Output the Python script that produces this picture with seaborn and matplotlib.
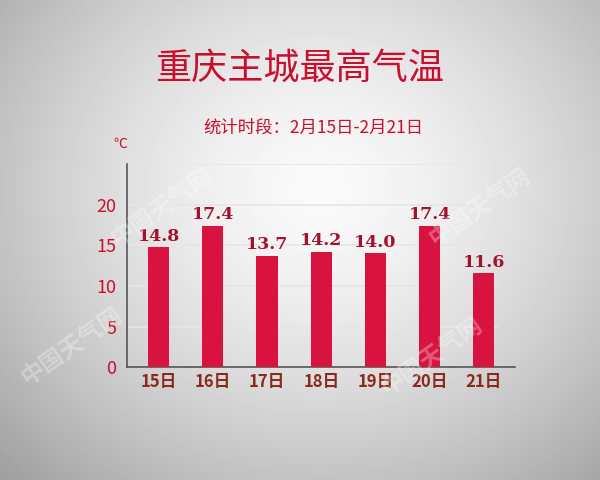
import numpy as np
import pandas as pd
import matplotlib
matplotlib.use("Agg")
import matplotlib.pyplot as plt
import seaborn as sns

# 数据
days = ["15日", "16日", "17日", "18日", "19日", "20日", "21日"]
temps = [14.8, 17.4, 13.7, 14.2, 14.0, 17.4, 11.6]
y_ticks = [0, 5, 10, 15, 20]

sns.set_theme(style="white")
plt.rcParams['font.family'] = ['Noto Sans CJK SC', 'DejaVu Sans']
plt.rcParams['axes.unicode_minus'] = False

fig = plt.figure(figsize=(6, 4.8), dpi=100)

# 背景渐变
bg = fig.add_axes([0, 0, 1, 1], zorder=-10)
yy, xx = np.mgrid[0:480, 0:600]
r = np.sqrt(((xx - 320) / 400.0) ** 2 + ((yy - 190) / 360.0) ** 2)
shade = np.clip(0.98 - 0.3 * r ** 1.5, 0.6, 1.0)
bg.imshow(shade, cmap="gray", vmin=0, vmax=1, aspect="auto", extent=[0, 1, 0, 1])
bg.axis("off")

# 水印
for x, y in [(0.80, 0.57), (0.72, 0.26), (0.12, 0.28), (0.27, 0.57)]:
    fig.text(x, y, "中国天气网", fontsize=17, color="white", alpha=0.3,
             rotation=35, ha="center", va="center", fontweight="bold")

ax = fig.add_axes([0.212, 0.235, 0.646, 0.423])
ax.set_facecolor("none")
df = pd.DataFrame({"day": days, "temp": temps})
sns.barplot(data=df, x="day", y="temp", color="#d8133f", saturation=1,
            width=0.39, linewidth=0, ax=ax, zorder=3)

for i, v in enumerate(temps):
    ax.text(i, v + 0.3, f"{v:.1f}", ha="center", va="bottom", fontsize=12.5,
            fontweight="bold", color="#a3122c", family="DejaVu Serif")

ax.set_ylim(0, 25)
ax.set_xlim(-0.58, 6.57)
ax.set_yticks(y_ticks)
for g in [5, 10, 15, 20, 25]:
    ax.plot([-0.58, 6.24], [g, g], color="#e6e6e6", lw=1.2, zorder=1)
ax.tick_params(axis="y", colors="#c8102e", labelsize=13, length=0, pad=8)
ax.tick_params(axis="x", colors="#8a2a1c", labelsize=12, length=0, pad=4)
for lab in ax.get_xticklabels():
    lab.set_fontweight("bold")
ax.set_xlabel("")
ax.set_ylabel("")
for s in ["top", "right"]:
    ax.spines[s].set_visible(False)
ax.spines["left"].set_color("#555555")
ax.spines["bottom"].set_color("#555555")
ax.spines["left"].set_linewidth(1.2)
ax.spines["bottom"].set_linewidth(1.2)

fig.text(0.5, 0.855, "重庆主城最高气温", ha="center", va="center",
         fontsize=26, color="#c8102e")
fig.text(0.523, 0.735, "统计时段：2月15日-2月21日", ha="center", va="center",
         fontsize=12.5, color="#c8102e")
fig.text(0.20, 0.70, "℃", ha="center", va="center", fontsize=10,
         color="#c8102e")

fig.savefig("out.png", dpi=100)
